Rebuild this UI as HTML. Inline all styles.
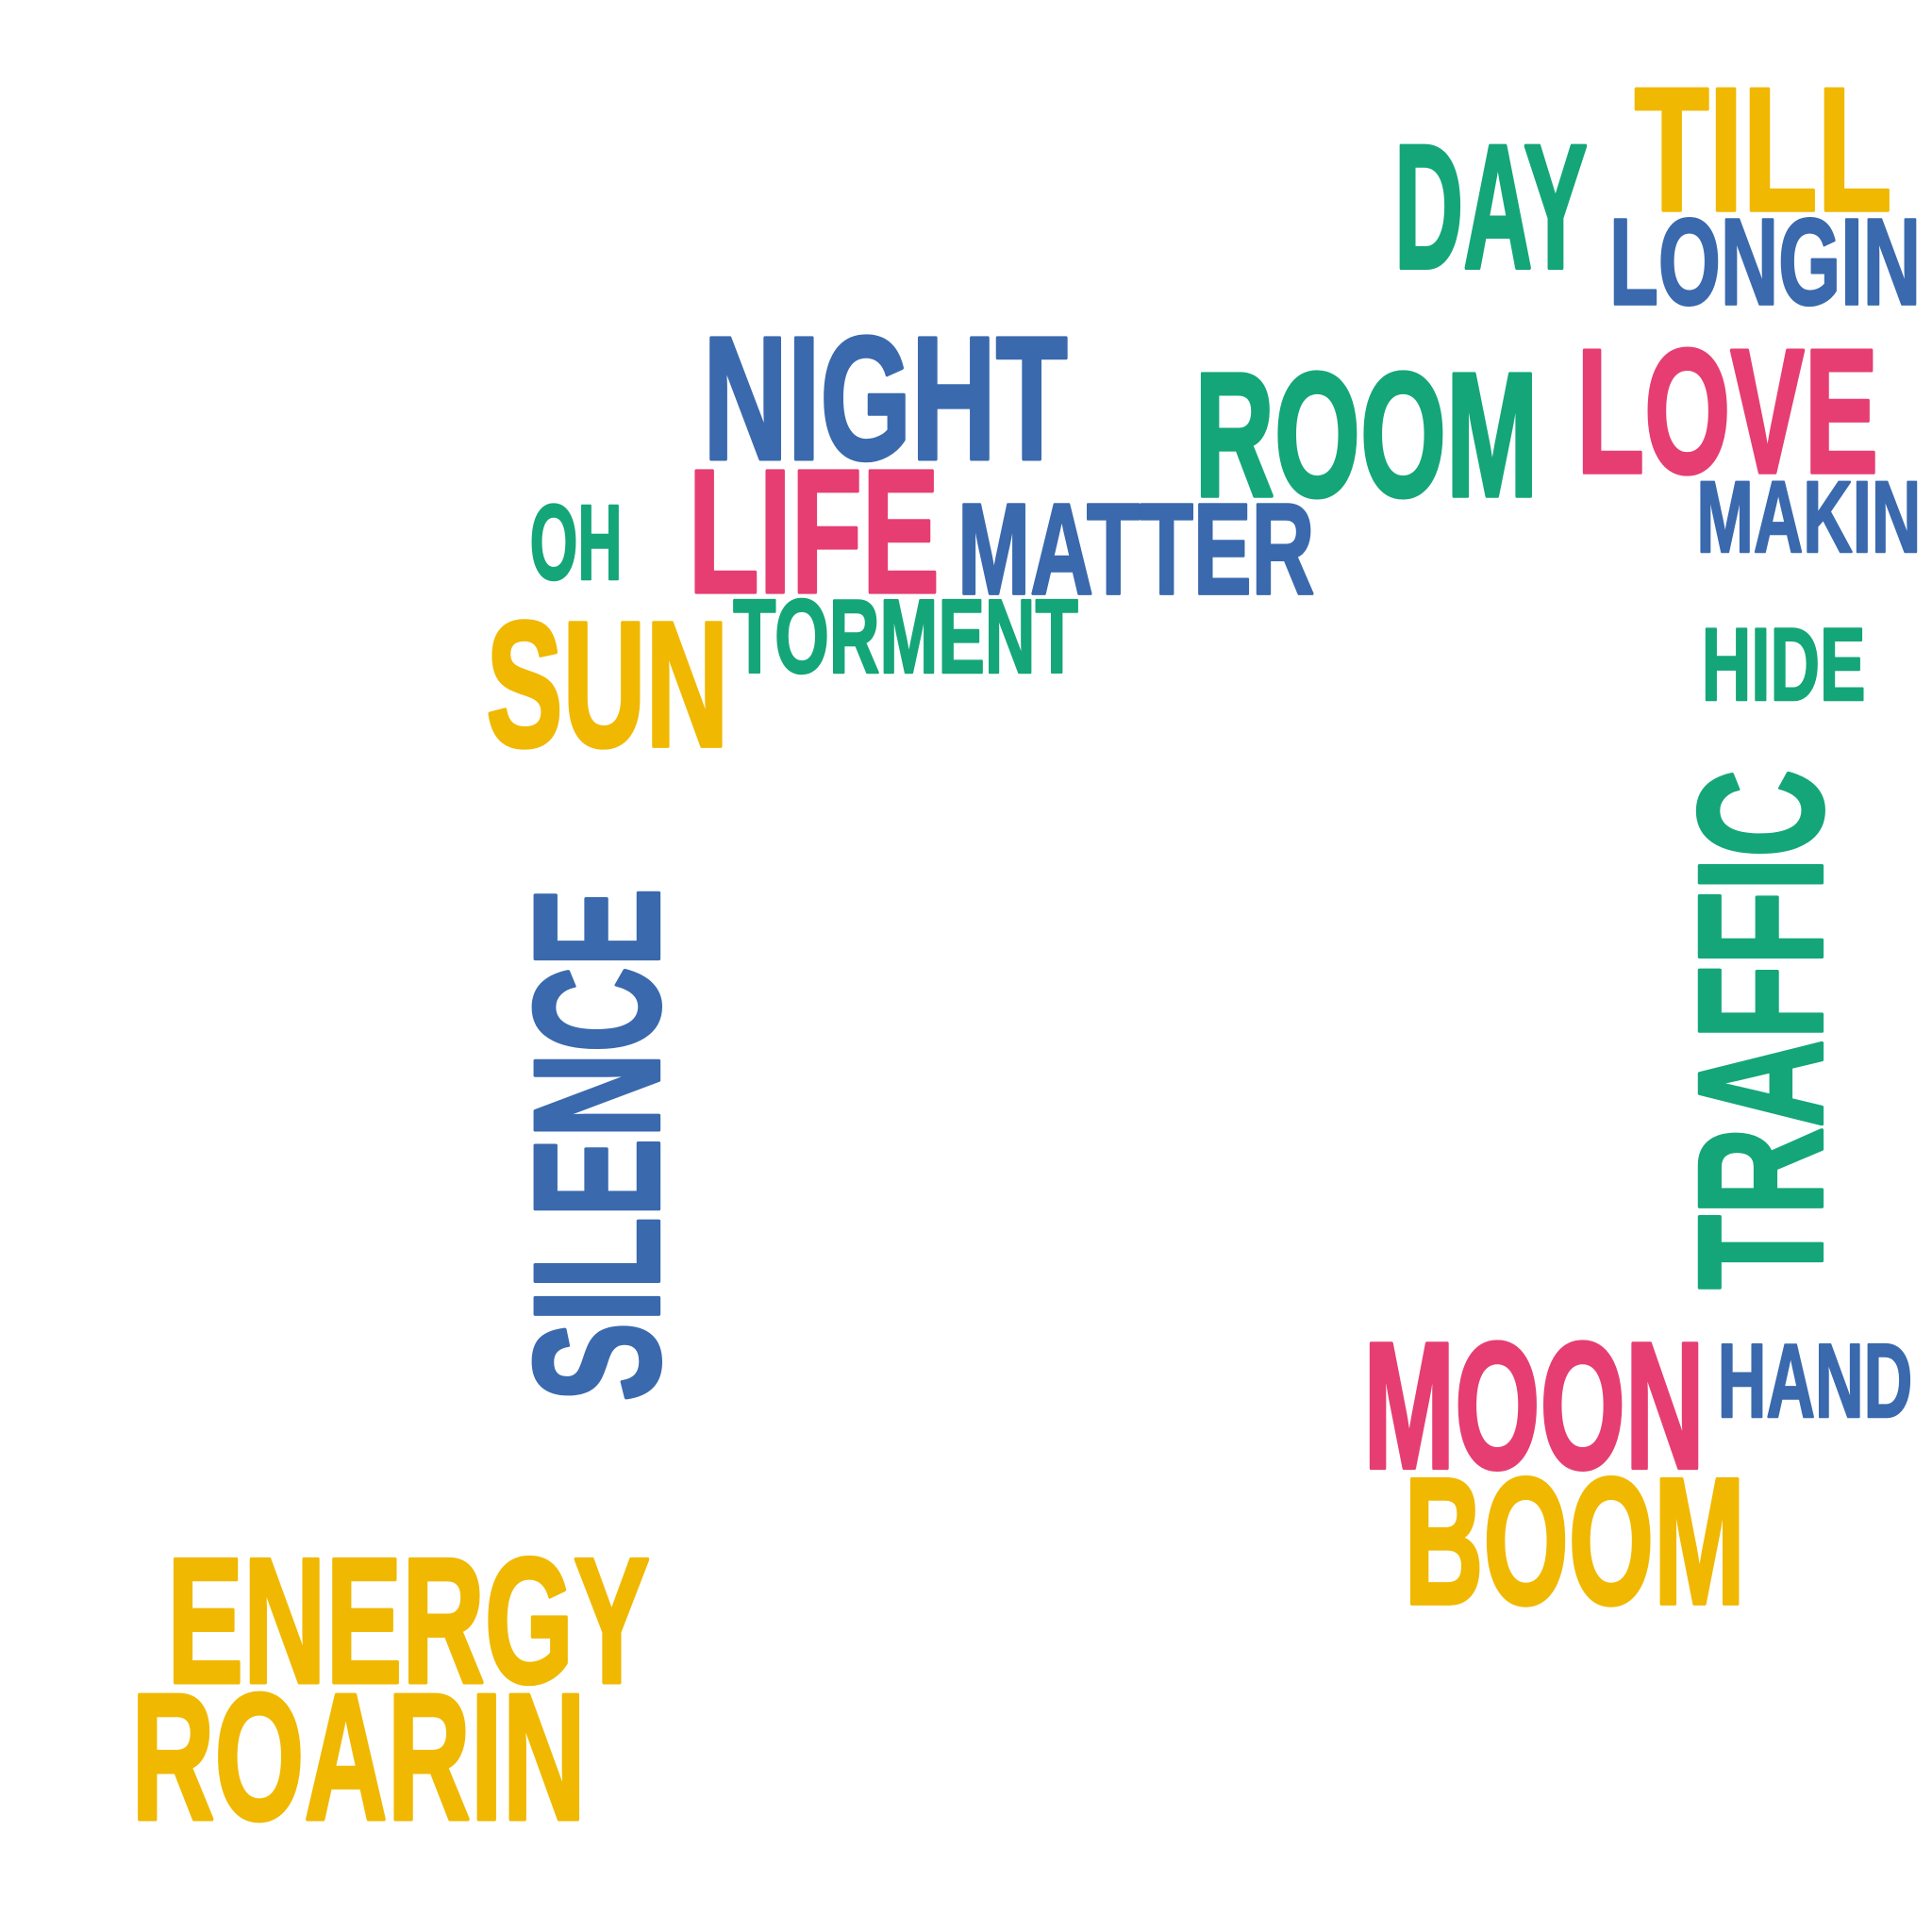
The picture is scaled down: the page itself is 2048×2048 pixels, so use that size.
<!DOCTYPE html>
<html><head><meta charset="utf-8"><style>
html,body{margin:0;padding:0;background:#fff;}
svg{display:block;}
text{font-family:"Liberation Sans Narrow","Liberation Sans",sans-serif;font-weight:bold;}
</style></head>
<body>
<svg id="cloud" width="2048" height="2048" viewBox="0 0 2048 2048" xmlns="http://www.w3.org/2000/svg"></svg>
<script>
const words = ["TILL","DAY","LONGIN","NIGHT","ROOM","LOVE","LIFE","MATTER","MAKIN","OH","TORMENT","SUN","HIDE","TRAFFIC","SILENCE","MOON","HAND","BOOM","ENERGY","ROARIN"];
const colors = ["#f0b800","#14a678","#3a69ad","#3a69ad","#14a678","#e63e72","#e63e72","#3a69ad","#3a69ad","#14a678","#14a678","#f0b800","#14a678","#14a678","#3a69ad","#e63e72","#3a69ad","#f0b800","#f0b800","#f0b800"];
const vertical = [0,0,0,0,0,0,0,0,0,0,0,0,0,1,1,0,0,0,0,0];
const boxX1 = [1325,1130,1305,569,968,1278,557,776,1376,429,594,393,1380,1372,427,1105,1393,1138,134,105];
const boxX2 = [1537,1290,1560,868,1250,1526,764,1068,1560,506,876,593,1515,1480,536,1385,1553,1418,529,477];
const boxY1 = [65,111,173,267,296,277,375,404,387,406,483,498,506,623,719,1083,1087,1193,1258,1368];
const boxY2 = [172,219,248,374,404,385,482,483,449,471,547,607,569,1048,1139,1193,1151,1303,1367,1478];
const S = 2048/1568;
const svg = document.getElementById('cloud');
const NS = "http://www.w3.org/2000/svg";
for (let i=0;i<words.length;i++){
  const x1=boxX1[i]*S, x2=boxX2[i]*S, y1=boxY1[i]*S, y2=boxY2[i]*S;
  const t=document.createElementNS(NS,'text');
  
  
  t.textContent=words[i];
  t.setAttribute('fill',colors[i]);
  t.setAttribute('stroke',colors[i]);
  t.setAttribute('stroke-linejoin','round');
  t.setAttribute('lengthAdjust','spacingAndGlyphs');
  if(!vertical[i]){
    const h=y2-y1;
    const sw=h*0.03;
    t.setAttribute('stroke-width',sw.toFixed(1));
    t.setAttribute('font-size',((h-sw)/0.729).toFixed(1));
    t.setAttribute('x',(x1+sw/2).toFixed(1));
    t.setAttribute('y',(y2-sw/2).toFixed(1));
    t.setAttribute('textLength',(x2-x1-sw).toFixed(1));
  } else {
    const h=x2-x1;
    const sw=h*0.03;
    t.setAttribute('stroke-width',sw.toFixed(1));
    t.setAttribute('font-size',((h-sw)/0.729).toFixed(1));
    t.setAttribute('x',(sw/2).toFixed(1));
    t.setAttribute('y',(-sw/2).toFixed(1));
    t.setAttribute('textLength',(y2-y1-sw).toFixed(1));
    t.setAttribute('transform','translate('+x2.toFixed(1)+','+y2.toFixed(1)+') rotate(-90)');
  }
  svg.appendChild(t);
}
</script>
</body></html>
